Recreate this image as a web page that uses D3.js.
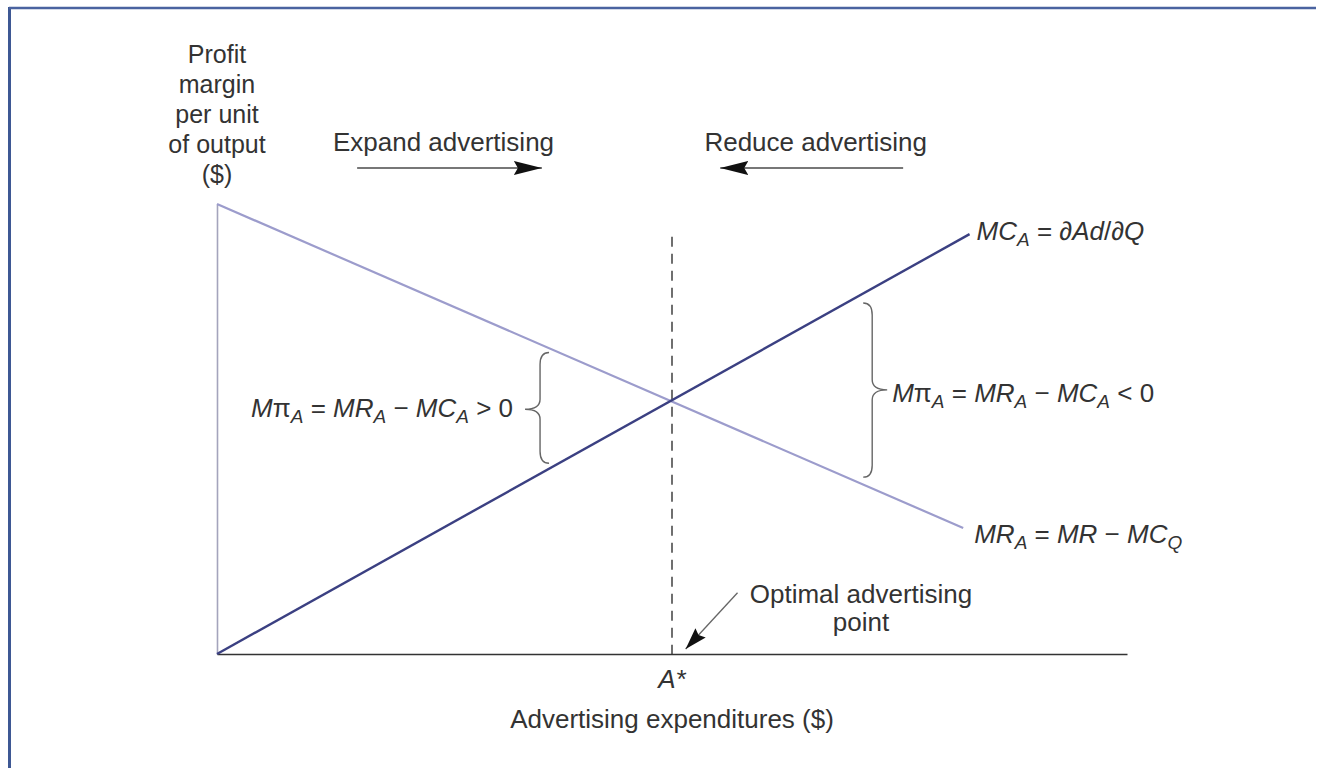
<!DOCTYPE html>
<html>
<head>
<meta charset="utf-8">
<title>Optimal advertising</title>
<script src="https://d3js.org/d3.v7.min.js"></script>
<style>
  body { margin: 0; background: #fff; }
  svg { display: block; font-family: "Liberation Sans", Arial, sans-serif; }
</style>
</head>
<body>
<svg id="chart" width="1318" height="768"></svg>
<script>
// curve end points (advertising, profit margin per unit)
const mrX = [0, 8.2];
const mrY = [10, 2.8];
const mcX = [0, 8.27];
const mcY = [0, 9.33];
const optimalA = 5;
const dashTop = 9.27;

// braces: [spine x, top, tip, bottom]
const leftBrace = [3.55, 6.7, 5.44, 4.24];
const rightBrace = [7.2, 7.8, 5.87, 3.93];

// direction arrows: [from, to] along x, at one height
const expandArrow = [1.54, 3.57];
const reduceArrow = [7.54, 5.53];
const arrowLevel = 10.8;

// "optimal point" pointer: [x0, y0, x1, y1]
const optimalPointer = [5.72, 1.36, 5.15, 0.11];

const yTitle = ['Profit', 'margin', 'per unit', 'of output', '($)'];

const svg = d3.select('#chart');
const x = d3.scaleLinear().domain([0, 10]).range([217, 1127]);
const y = d3.scaleLinear().domain([0, 10]).range([654, 204]);

const ink = '#333';

// page frame
svg.append('line').attr('x1', 9.5).attr('x2', 9.5).attr('y1', 7).attr('y2', 768)
  .attr('stroke', '#3e5894').attr('stroke-width', 3);
svg.append('line').attr('x1', 9).attr('x2', 1316).attr('y1', 8).attr('y2', 8)
  .attr('stroke', '#4a63a0').attr('stroke-width', 2.5);

// markers
const defs = svg.append('defs');
defs.append('marker').attr('id', 'head').attr('markerUnits', 'userSpaceOnUse')
  .attr('viewBox', '0 -8 30 16').attr('markerWidth', 30).attr('markerHeight', 16)
  .attr('refX', 28).attr('refY', 0).attr('orient', 'auto')
  .append('path').attr('d', 'M0,-7L28,0L0,7L4,0Z').attr('fill', '#111');
defs.append('marker').attr('id', 'head2').attr('markerUnits', 'userSpaceOnUse')
  .attr('viewBox', '0 -8 24 16').attr('markerWidth', 24).attr('markerHeight', 16)
  .attr('refX', 22).attr('refY', 0).attr('orient', 'auto')
  .append('path').attr('d', 'M0,-7L22,0L0,7L3,0Z').attr('fill', '#111');

// axes (lines only)
svg.append('g').attr('transform', `translate(0,${y(0)})`)
  .call(d3.axisBottom(x).tickValues([]).tickSizeOuter(0))
  .select('.domain').attr('stroke', ink).attr('stroke-width', 1.6);
svg.append('g').attr('transform', `translate(${x(0)},0)`)
  .call(d3.axisLeft(y).tickValues([]).tickSizeOuter(0))
  .select('.domain').attr('stroke', '#a4a4bc').attr('stroke-width', 1.6);

// optimal point dashed line
svg.append('line')
  .attr('x1', x(optimalA)).attr('x2', x(optimalA))
  .attr('y1', y(dashTop)).attr('y2', y(0))
  .attr('stroke', ink).attr('stroke-width', 1.4).attr('stroke-dasharray', '10,7');

// curves
const line = d3.line().x(d => x(d[0])).y(d => y(d[1]));
svg.append('path').datum(d3.zip(mrX, mrY)).attr('d', line)
  .attr('fill', 'none').attr('stroke', '#9c9ccc').attr('stroke-width', 2.2);
svg.append('path').datum(d3.zip(mcX, mcY)).attr('d', line)
  .attr('fill', 'none').attr('stroke', '#3b4082').attr('stroke-width', 2.4);

// braces
function brace(b, dir) {
  const sx = x(b[0]), top = y(b[1]), tip = y(b[2]), bot = y(b[3]);
  const curl = 9 * -dir, out = 15 * dir;
  return `M${sx + curl},${top} Q${sx},${top} ${sx},${top + 12}` +
    ` L${sx},${tip - 10} Q${sx},${tip} ${sx + out},${tip}` +
    ` Q${sx},${tip} ${sx},${tip + 10} L${sx},${bot - 12}` +
    ` Q${sx},${bot} ${sx + curl},${bot}`;
}
svg.append('path').attr('d', brace(leftBrace, -1))
  .attr('fill', 'none').attr('stroke', '#666').attr('stroke-width', 1.4);
svg.append('path').attr('d', brace(rightBrace, 1))
  .attr('fill', 'none').attr('stroke', '#666').attr('stroke-width', 1.4);

// direction arrows
[expandArrow, reduceArrow].forEach(a => {
  svg.append('line')
    .attr('x1', x(a[0])).attr('x2', x(a[1]))
    .attr('y1', y(arrowLevel)).attr('y2', y(arrowLevel))
    .attr('stroke', '#777').attr('stroke-width', 2)
    .attr('marker-end', 'url(#head)');
});
svg.append('line')
  .attr('x1', x(optimalPointer[0])).attr('y1', y(optimalPointer[1]))
  .attr('x2', x(optimalPointer[2])).attr('y2', y(optimalPointer[3]))
  .attr('stroke', '#666').attr('stroke-width', 1.3)
  .attr('marker-end', 'url(#head2)');

// text helpers
const fs = 26;
function label(px, py, anchor, parts) {
  const t = svg.append('text').attr('x', px).attr('y', py)
    .attr('text-anchor', anchor).attr('font-size', fs).attr('fill', ink);
  parts.forEach(p => {
    const s = t.append('tspan').text(p.t);
    if (p.i) s.attr('font-style', 'italic');
    if (p.sub) s.attr('font-size', 19).attr('baseline-shift', '-6px');
  });
  return t;
}

// y title
svg.append('text').attr('text-anchor', 'middle').attr('font-size', 25).attr('fill', ink)
  .selectAll('tspan').data(yTitle).join('tspan')
  .attr('x', x(0)).attr('y', (d, i) => 63 + i * 30).text(d => d);

label((x(expandArrow[0]) + x(expandArrow[1])) / 2 - 6, 151, 'middle', [{ t: 'Expand advertising' }]);
label((x(reduceArrow[0]) + x(reduceArrow[1])) / 2 + 4, 151, 'middle', [{ t: 'Reduce advertising' }]);

label(x(mcX[1]) + 7, y(mcY[1]) + 6, 'start', [
  { t: 'MC', i: 1 }, { t: 'A', i: 1, sub: 1 }, { t: ' = ∂' }, { t: 'Ad', i: 1 }, { t: '/∂' }, { t: 'Q', i: 1 }
]);
label(x(mrX[1]) + 11, y(mrY[1]) + 15, 'start', [
  { t: 'MR', i: 1 }, { t: 'A', i: 1, sub: 1 }, { t: ' = ' }, { t: 'MR', i: 1 }, { t: ' − ' },
  { t: 'MC', i: 1 }, { t: 'Q', i: 1, sub: 1 }
]);
label(x(leftBrace[0]) - 27, y(leftBrace[2]) + 8, 'end', [
  { t: 'M', i: 1 }, { t: 'π' }, { t: 'A', i: 1, sub: 1 }, { t: ' = ' }, { t: 'MR', i: 1 }, { t: 'A', i: 1, sub: 1 },
  { t: ' − ' }, { t: 'MC', i: 1 }, { t: 'A', i: 1, sub: 1 }, { t: ' > 0' }
]);
label(x(rightBrace[0]) + 20, y(rightBrace[2]) + 12, 'start', [
  { t: 'M', i: 1 }, { t: 'π' }, { t: 'A', i: 1, sub: 1 }, { t: ' = ' }, { t: 'MR', i: 1 }, { t: 'A', i: 1, sub: 1 },
  { t: ' − ' }, { t: 'MC', i: 1 }, { t: 'A', i: 1, sub: 1 }, { t: ' < 0' }
]);

label(x(optimalA), y(0) + 34, 'middle', [{ t: 'A*', i: 1 }]);
label(x(optimalA), y(0) + 74, 'middle', [{ t: 'Advertising expenditures ($)' }]);
label(861, 603, 'middle', [{ t: 'Optimal advertising' }]);
label(861, 631, 'middle', [{ t: 'point' }]);
</script>
</body>
</html>
